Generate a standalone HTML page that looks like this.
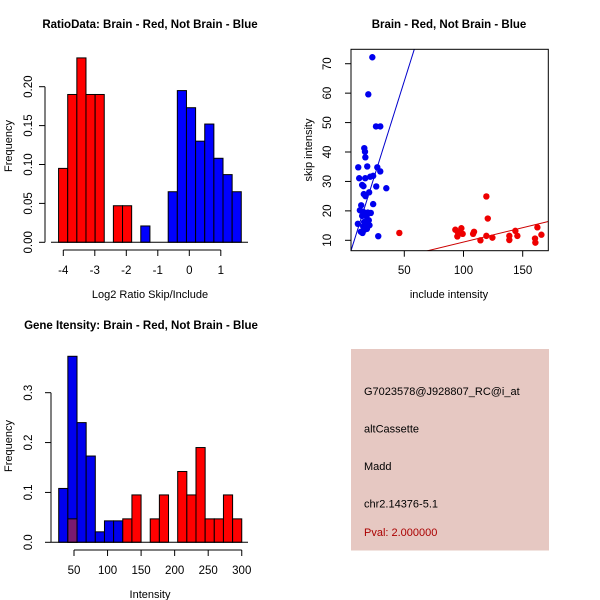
<!DOCTYPE html>
<html><head><meta charset="utf-8">
<style>
html,body{margin:0;padding:0;background:#fff;}
svg{display:block;font-family:"Liberation Sans",sans-serif;}
</style></head>
<body>
<svg id="c" width="600" height="600" viewBox="0 0 600 600">
<rect width="600" height="600" fill="#fff"/>
</svg>
<script>
// Panel 1: ratio histogram (bins start -4.15, width 0.29)
const ratioRed = [0.095,0.19,0.237,0.19,0.19,0,0.047,0.047,0,0,0,0,0,0,0,0,0,0,0,0];
const ratioBlue = [0,0,0,0,0,0,0,0,0,0.021,0,0,0.065,0.195,0.173,0.13,0.152,0.108,0.087,0.065];
const ratioXTicks = [-4,-3,-2,-1,0,1];
const ratioYTicks = [0,0.05,0.10,0.15,0.20];
const ratioYLabels = ["0.00","0.05","0.10","0.15","0.20"];
// Panel 2: scatter
const blueInc = [23,19.6,26.1,29.7,16.2,16.8,17.1,11.1,18.7,27.2,29.7,11.9,17,21.2,23.7,14.4,15.5,26.3,34.8,20.3,15.8,17.2,23.7,13.6,12.5,15.3,17.2,19.2,21.7,14.4,18.1,20,16.1,17.5,10.8,20.6,15.3,18.4,16.4,13.3,14.7,28];
const blueSkip = [72.2,59.6,48.7,48.7,41.3,40.1,38.2,34.8,35.1,34.8,33.4,31.1,31.1,31.6,31.9,28.8,28.4,28.3,27.7,26.3,25.7,25,22.3,21.9,20.2,19.7,19.2,19.4,19.3,18.3,18.1,16.8,16.2,15.6,15.6,15.1,14.7,13.9,13.6,12.9,12.5,11.4];
const redInc = [45.8,93.1,98.2,95.3,99.3,94.8,108.9,108.1,114.3,119.3,120.5,119.3,124.4,138.7,138.7,143.8,145.5,162.4,165.8,160.4,160.7];
const redSkip = [12.5,13.6,14.1,12.7,12.2,11.3,12.9,12.2,10,24.9,17.4,11.5,10.9,11.5,10.1,13.2,11.5,14.4,11.9,10.6,9.2];
const blueFit = [0.1,1.28];
const redFit = [-0.36,0.0976];
const scatXTicks = [50,100,150];
const scatYTicks = [10,20,30,40,50,60,70];
// Panel 3: intensity histogram (bins start 27.2, width 13.64)
const intBlue = [0.108,0.373,0.24,0.173,0.021,0.043,0.043,0,0,0,0,0,0,0,0,0,0,0,0,0];
const intRed = [0,0.047,0,0,0,0,0,0.047,0.095,0,0.047,0.095,0,0.142,0.095,0.19,0.047,0.047,0.095,0.047];
const intXTicks = [50,100,150,200,250,300];
const intYTicks = [0,0.1,0.2,0.3];
const intYLabels = ["0.0","0.1","0.2","0.3"];
// Panel 4 info
const infoLines = ["G7023578@J928807_RC@i_at","altCassette","Madd","chr2.14376-5.1"];
const pvalText = "Pval: 2.000000";

const svg = document.getElementById('c');
const NS = 'http://www.w3.org/2000/svg';
function mk(tag, attrs, parent){ const e=document.createElementNS(NS,tag); for(const k in attrs) e.setAttribute(k,attrs[k]); (parent||svg).appendChild(e); return e; }
function txt(s, attrs, parent){ const e=mk('text',attrs,parent); e.textContent=s; return e; }

// ---------- Panel 1 ----------
const g1 = mk('g',{});


const x1 = v => 63.3 + (v+4)*31.5;
const y1 = v => 242.3 - v*778;
const b1s=-4.15, b1w=0.29;
function bars(g, arr, color, xf, yf, s, w, nm){
  arr.forEach((v,i)=>{ if(v<=0) return;
    const r=mk('rect',{x:xf(s+i*w),y:yf(v),width:xf(s+(i+1)*w)-xf(s+i*w),height:yf(0)-yf(v),fill:color,stroke:'#000','stroke-width':1},g);
    
    
  });
}
bars(g1, ratioRed, '#ff0000', x1, y1, b1s, b1w, 'brain');
bars(g1, ratioBlue, '#0000ff', x1, y1, b1s, b1w, 'not-brain');
mk('line',{x1:51,y1:242.3,x2:248,y2:242.3,stroke:'#000'},g1);
mk('line',{x1:x1(ratioXTicks[0]),y1:250,x2:x1(ratioXTicks[ratioXTicks.length-1]),y2:250,stroke:'#000'},g1);
ratioXTicks.forEach(t=>{ mk('line',{x1:x1(t),y1:250,x2:x1(t),y2:256,stroke:'#000'},g1);
  const l=txt(String(t),{x:x1(t),y:274,'font-size':11.5,'text-anchor':'middle'},g1);
    });
mk('line',{x1:45,y1:y1(0),x2:45,y2:y1(0.2),stroke:'#000'},g1);
ratioYTicks.forEach((t,i)=>{ mk('line',{x1:39,y1:y1(t),x2:45,y2:y1(t),stroke:'#000'},g1);
  const l=txt(ratioYLabels[i],{x:0,y:0,'font-size':11.5,'text-anchor':'middle',transform:`translate(32,${y1(t)}) rotate(-90)`},g1);
    });
let t;
t=txt('RatioData: Brain - Red, Not Brain - Blue',{x:150,y:28,'font-size':11.5,'font-weight':'bold','text-anchor':'middle'},g1);
 
t=txt('Log2 Ratio Skip/Include',{x:150,y:298,'font-size':11,'text-anchor':'middle'},g1);
 
t=txt('Frequency',{x:0,y:0,'font-size':11,'text-anchor':'middle',transform:'translate(12,146) rotate(-90)'},g1);
 

// ---------- Panel 2 ----------
const g2 = mk('g',{});


const x2 = v => 404.3 + (v-50)*1.184;
const y2 = v => 240.3 - (v-10)*2.943;
const L=351,R=548.3,T=49.3,B=250.7;
const cp = mk('clipPath',{id:'cp2'},g2); mk('rect',{x:L,y:T,width:R-L,height:B-T},cp);
function fitLine(f,color,nm){
  const vL=50+(L-404.3)/1.184, vR=50+(R-404.3)/1.184;
  const ln=mk('line',{x1:x2(vL),y1:y2(f[0]+f[1]*vL),x2:x2(vR),y2:y2(f[0]+f[1]*vR),stroke:color,'stroke-width':1,'clip-path':'url(#cp2)'},g2);
   
}
fitLine(blueFit,'#0000cc','not-brain-fit-line');
fitLine(redFit,'#cc0000','brain-fit-line');
blueInc.forEach((v,i)=>{ const c=mk('circle',{cx:x2(v),cy:y2(blueSkip[i]),r:3.2,fill:'#0000ee'},g2);
    });
redInc.forEach((v,i)=>{ const c=mk('circle',{cx:x2(v),cy:y2(redSkip[i]),r:3.2,fill:'#ee0000'},g2);
    });
mk('rect',{x:L,y:T,width:R-L,height:B-T,fill:'none',stroke:'#000'},g2);
scatXTicks.forEach(v=>{ mk('line',{x1:x2(v),y1:B,x2:x2(v),y2:B+6,stroke:'#000'},g2);
  const l=txt(String(v),{x:x2(v),y:274,'font-size':11.5,'text-anchor':'middle'},g2);
    });
scatYTicks.forEach(v=>{ mk('line',{x1:L-6,y1:y2(v),x2:L,y2:y2(v),stroke:'#000'},g2);
  const l=txt(String(v),{x:0,y:0,'font-size':11.5,'text-anchor':'middle',transform:`translate(331,${y2(v)}) rotate(-90)`},g2);
    });
t=txt('Brain - Red, Not Brain - Blue',{x:449,y:28,'font-size':11.5,'font-weight':'bold','text-anchor':'middle'},g2);
 
t=txt('include intensity',{x:449,y:298,'font-size':11,'text-anchor':'middle'},g2);
 
t=txt('skip intensity',{x:0,y:0,'font-size':11,'text-anchor':'middle',transform:'translate(312,150) rotate(-90)'},g2);
 

// ---------- Panel 3 ----------
const g3 = mk('g',{});


const x3 = v => 74 + (v-50)*0.671;
const y3 = v => 542.3 - v*498.7;
const b3s=27.2, b3w=13.64;
bars(g3, intBlue, '#0000ee', x3, y3, b3s, b3w, 'not-brain');
intRed.forEach((v,i)=>{ if(v<=0) return;
  const col = intBlue[i]>0 ? '#7a1a70' : '#ff0000';
  const r=mk('rect',{x:x3(b3s+i*b3w),y:y3(v),width:x3(b3s+(i+1)*b3w)-x3(b3s+i*b3w),height:y3(0)-y3(v),fill:col,stroke:'#000','stroke-width':1},g3);
    });
mk('line',{x1:51,y1:y3(0),x2:248,y2:y3(0),stroke:'#000'},g3);
mk('line',{x1:x3(intXTicks[0]),y1:550,x2:x3(intXTicks[intXTicks.length-1]),y2:550,stroke:'#000'},g3);
intXTicks.forEach(v=>{ mk('line',{x1:x3(v),y1:550,x2:x3(v),y2:556,stroke:'#000'},g3);
  const l=txt(String(v),{x:x3(v),y:574,'font-size':11.5,'text-anchor':'middle'},g3);
    });
mk('line',{x1:51,y1:y3(0),x2:51,y2:y3(0.3),stroke:'#000'},g3);
intYTicks.forEach((v,i)=>{ mk('line',{x1:45,y1:y3(v),x2:51,y2:y3(v),stroke:'#000'},g3);
  const l=txt(intYLabels[i],{x:0,y:0,'font-size':11.5,'text-anchor':'middle',transform:`translate(32,${y3(v)}) rotate(-90)`},g3);
    });
t=txt('Gene Itensity: Brain - Red, Not Brain - Blue',{x:141,y:329,'font-size':11.5,'font-weight':'bold','text-anchor':'middle'},g3);
 
t=txt('Intensity',{x:150,y:598,'font-size':11,'text-anchor':'middle'},g3);
 
t=txt('Frequency',{x:0,y:0,'font-size':11,'text-anchor':'middle',transform:'translate(12,446) rotate(-90)'},g3);
 

// ---------- Panel 4 ----------
const g4 = mk('g',{});


mk('rect',{x:351,y:349,width:198,height:201.5,fill:'#e6c8c2'},g4);
const ys=[395,432.5,470,507.5];
infoLines.forEach((s,i)=>{ const l=txt(s,{x:364,y:ys[i],'font-size':11,fill:'#000'},g4);
    });
t=txt(pvalText,{x:364,y:536,'font-size':11,fill:'#aa0000'},g4);
 
</script>
</body></html>
